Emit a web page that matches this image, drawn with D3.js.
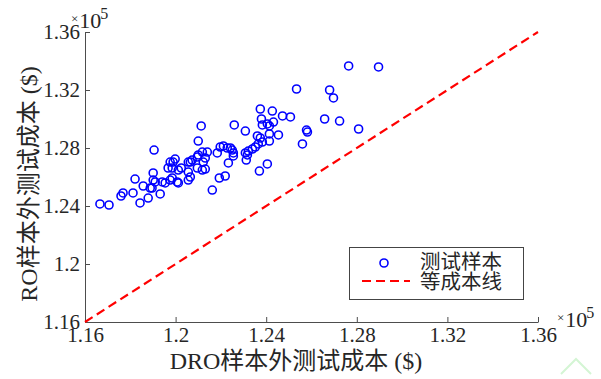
<!DOCTYPE html>
<html>
<head>
<meta charset="utf-8">
<script src="https://cdn.jsdelivr.net/npm/d3@7"></script>
<style>
  html, body { margin: 0; padding: 0; background: #fff; }
  svg { display: block; }
  text { font-family: "Liberation Serif", "Noto Sans CJK SC", serif; fill: #262626; }
</style>
</head>
<body>
<svg id="chart" width="601" height="379"></svg>
<script>
// Out-of-sample test costs (units of 1e5 $): DRO model vs RO model, one entry per test sample
const droCost = [
  1.1666, 1.1706, 1.1759, 1.1768, 1.1812, 1.1821, 1.1843, 1.1857, 1.1879, 1.1888,
  1.1896, 1.1901, 1.1910, 1.1901, 1.1905, 1.1932, 1.1941, 1.1954, 1.1967, 1.1985,
  1.1976, 1.1989, 1.1998, 1.1976, 1.1985, 1.2007, 1.2012, 1.2012, 1.2025, 1.2056,
  1.2065, 1.2056, 1.2065, 1.2056, 1.2073, 1.2096, 1.2100, 1.2096, 1.2118, 1.2131,
  1.2122, 1.2131, 1.2118, 1.2140, 1.2100, 1.2113, 1.2162, 1.2184, 1.2197, 1.2211,
  1.2228, 1.2242, 1.2250, 1.2255, 1.2233, 1.2193, 1.2219, 1.2259, 1.2255, 1.2308,
  1.2308, 1.2317, 1.2321, 1.2339, 1.2352, 1.2365, 1.2383, 1.2374, 1.2361, 1.2414,
  1.2454, 1.2414, 1.2312, 1.2370, 1.2405, 1.2374, 1.2427, 1.2472, 1.2507, 1.2379,
  1.2432, 1.2383, 1.2405, 1.2414, 1.2560, 1.2578, 1.2582, 1.2534, 1.2680, 1.2697,
  1.2658, 1.2724, 1.2808, 1.2764, 1.2896
];
const roCost = [
  1.2414, 1.2407, 1.2469, 1.2490, 1.2490, 1.2586, 1.2421, 1.2538, 1.2455, 1.2524,
  1.2524, 1.2579, 1.2566, 1.2628, 1.2786, 1.2483, 1.2566, 1.2559, 1.2662, 1.2662,
  1.2703, 1.2703, 1.2724, 1.2579, 1.2593, 1.2566, 1.2559, 1.2648, 1.2662, 1.2703,
  1.2703, 1.2634, 1.2600, 1.2579, 1.2717, 1.2738, 1.2752, 1.2662, 1.2648, 1.2655,
  1.2703, 1.2731, 1.2772, 1.2772, 1.2848, 1.2952, 1.2510, 1.2766, 1.2807, 1.2814,
  1.2800, 1.2800, 1.2786, 1.2745, 1.2697, 1.2593, 1.2607, 1.2959, 1.2766, 1.2917,
  1.2766, 1.2752, 1.2779, 1.2793, 1.2807, 1.2828, 1.2841, 1.2869, 1.2883, 1.2897,
  1.2890, 1.2848, 1.2717, 1.2641, 1.2690, 1.3069, 1.3055, 1.3021, 1.3014, 1.3000,
  1.2979, 1.2959, 1.2966, 1.2952, 1.2828, 1.2924, 1.2910, 1.3207, 1.3200, 1.3145,
  1.3000, 1.2986, 1.2931, 1.3366, 1.3359
];

// Equal-cost reference line (DRO cost == RO cost)
const equalLine = [1.16, 1.36];

// Shared tick values and labels for both axes
const tickValues = [1.16, 1.20, 1.24, 1.28, 1.32, 1.36];
const tickLabels = ["1.16", "1.2", "1.24", "1.28", "1.32", "1.36"];

const xTitle = "DRO样本外测试成本 ($)";
const yTitle = "RO样本外测试成本 ($)";
const legendLabels = ["测试样本", "等成本线"];

const svg = d3.select("#chart");
const plotL = 85, plotR = 538, plotT = 32, plotB = 322;

const x = d3.scaleLinear().domain([1.16, 1.36]).range([plotL, plotR]);
const y = d3.scaleLinear().domain([1.16, 1.36]).range([plotB, plotT]);
const fmt = v => tickLabels[tickValues.findIndex(t => Math.abs(t - v) < 1e-9)];

// Axes with inward ticks
const xAxis = svg.append("g")
  .attr("transform", `translate(0,${plotB})`)
  .call(d3.axisBottom(x).tickValues(tickValues).tickFormat(fmt).tickSize(-5).tickSizeOuter(0).tickPadding(5));
const yAxis = svg.append("g")
  .attr("transform", `translate(${plotL},0)`)
  .call(d3.axisLeft(y).tickValues(tickValues).tickFormat(fmt).tickSize(-5).tickSizeOuter(0).tickPadding(5));
[xAxis, yAxis].forEach(g => {
  g.select(".domain").attr("stroke", "#4d4d4d").attr("stroke-width", 1);
  g.selectAll(".tick line").attr("stroke", "#4d4d4d");
  g.selectAll(".tick text").attr("font-size", 21)
    .attr("font-family", "Liberation Serif, serif").attr("fill", "#262626");
});

// Equal-cost dashed line
svg.append("line")
  .attr("x1", x(equalLine[0])).attr("y1", y(equalLine[0]))
  .attr("x2", x(equalLine[1])).attr("y2", y(equalLine[1]))
  .attr("stroke", "#ff0000").attr("stroke-width", 2.2)
  .attr("stroke-dasharray", "9,5");

// Test samples
svg.append("g").selectAll("circle")
  .data(droCost.map((d, i) => [d, roCost[i]]))
  .join("circle")
  .attr("cx", d => x(d[0])).attr("cy", d => y(d[1]))
  .attr("r", 4).attr("fill", "none")
  .attr("stroke", "#0000ff").attr("stroke-width", 1.6);

// Axis titles
svg.append("text").attr("x", 296).attr("y", 369)
  .attr("text-anchor", "middle").attr("font-size", 24).text(xTitle);
svg.append("text").attr("transform", "translate(37,184) rotate(-90)")
  .attr("text-anchor", "middle").attr("font-size", 24).text(yTitle);

// Exponent markers (x 10^5)
function exponent(gx, gy) {
  const t = svg.append("text").attr("x", gx).attr("y", gy);
  t.append("tspan").attr("font-size", 13).attr("dy", -5).text("×");
  t.append("tspan").attr("font-size", 22).attr("dx", 1).attr("dy", 5).text("10");
  t.append("tspan").attr("font-size", 16).attr("dx", -1).attr("dy", -9).text("5");
}
exponent(71, 28);
exponent(557, 327);

// Legend
const lg = svg.append("g");
lg.append("rect").attr("x", 349.5).attr("y", 247.5).attr("width", 174).attr("height", 52)
  .attr("fill", "#fff").attr("stroke", "#444").attr("stroke-width", 1);
lg.append("circle").attr("cx", 384).attr("cy", 263).attr("r", 4)
  .attr("fill", "none").attr("stroke", "#0000ff").attr("stroke-width", 1.6);
lg.append("line").attr("x1", 362).attr("x2", 410).attr("y1", 281).attr("y2", 281)
  .attr("stroke", "#ff0000").attr("stroke-width", 2.2).attr("stroke-dasharray", "9,5");
lg.selectAll("text").data(legendLabels).join("text")
  .attr("x", 420).attr("y", (d, i) => 262 + i * 19.5).attr("dy", "0.35em")
  .attr("font-size", 20.5).text(d => d);

// Faint corner mark
svg.append("polyline")
  .attr("points", "561,374 576,359 591,374")
  .attr("fill", "none").attr("stroke", "#d4f5d4").attr("stroke-width", 2);
</script>
</body>
</html>
